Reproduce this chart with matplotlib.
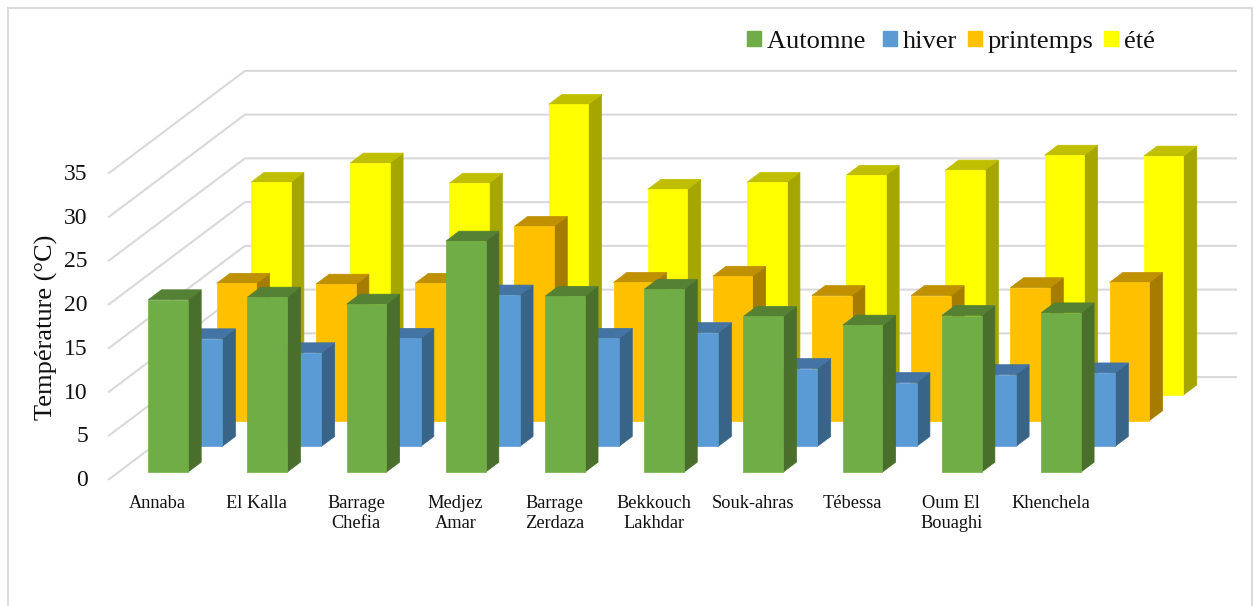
import matplotlib
matplotlib.use('Agg')
import matplotlib.pyplot as plt
from matplotlib.lines import Line2D
from matplotlib.patches import Patch
from matplotlib.transforms import ScaledTranslation

plt.rcParams['font.family'] = ['Liberation Serif', 'DejaVu Serif']

W, H = 1254, 606

villes = ['Annaba', 'El Kalla', 'Barrage\nChefia', 'Medjez\nAmar', 'Barrage\nZerdaza',
          'Bekkouch\nLakhdar', 'Souk-ahras', 'Tébessa', 'Oum El\nBouaghi', 'Khenchela']
saisons = ['Automne ', 'hiver', 'printemps', 'été']

automne = [19.7, 20.0, 19.2, 26.4, 20.1, 20.9, 17.8, 16.8, 17.9, 18.2]
hiver = [12.3, 10.7, 12.35, 17.3, 12.35, 13.0, 8.9, 7.3, 8.2, 8.4]
printemps = [15.7, 15.6, 15.7, 22.2, 15.8, 16.5, 14.3, 14.3, 15.2, 15.8]
ete = [24.3, 26.5, 24.2, 33.2, 23.5, 24.3, 25.1, 25.7, 27.4, 27.3]
series = [automne, hiver, printemps, ete]

yticks = [0, 5, 10, 15, 20, 25, 30, 35]

# face, dessus, cote
couleurs = [('#70AD47', '#558135', '#4A6E2B'),
            ('#5B9BD5', '#4374A3', '#386488'),
            ('#FFC000', '#BF9000', '#A67C00'),
            ('#FFFF00', '#BFBF00', '#A6A600')]

# projection oblique : un rang de profondeur decale en x (categories) et en y (degres)
dx = 0.345
dy = 2.94
largeur = 0.40
marge = 0.30
prof = 0.388
debut = 0.306

fig = plt.figure(figsize=(W / 100, H / 100), dpi=100)
ax = fig.add_axes([108 / W, (H - 480) / H, 1130 / W, 409.3 / H])
ax.set_xlim(0, 11.39)
ax.set_ylim(0, 46.78)
for s in ax.spines.values():
    s.set_visible(False)

# cadre autour du graphique
gris = '#D9D9D9'
fig.add_artist(Line2D([8 / W, 8 / W], [0, 1 - 8 / H], color=gris, lw=1.4))
fig.add_artist(Line2D([8 / W, 1252 / W], [1 - 8 / H, 1 - 8 / H], color=gris, lw=1.4))
fig.add_artist(Line2D([1252 / W, 1252 / W], [1 - 8 / H, 0], color=gris, lw=1.4))

# grille : paroi laterale puis fond
for v in yticks:
    ax.plot([0, 4 * dx, 10 + 4 * dx], [v, v + 4 * dy, v + 4 * dy], color=gris, lw=1.5,
            zorder=0.5, clip_on=False, solid_capstyle='butt')

# barres, du rang du fond vers le rang de devant
for rang in range(3, -1, -1):
    face, dessus, cote = couleurs[rang]
    for i, v in enumerate(series[rang]):
        x0 = i + marge + (rang + debut) * dx
        y0 = (rang + debut) * dy
        x1 = x0 + largeur
        y1 = y0 + v
        px = prof * dx
        py = prof * dy
        ax.fill([x1, x1 + px, x1 + px, x1], [y0, y0 + py, y1 + py, y1], color=cote, lw=0.5, zorder=1)
        ax.fill([x0, x0 + px, x1 + px, x1], [y1, y1 + py, y1 + py, y1], color=dessus, lw=0.5, zorder=1)
        ax.fill([x0, x1, x1, x0], [y0, y0, y1, y1], color=face, lw=0.5, zorder=1)

ax.set_yticks(yticks)
ax.set_xticks([i + 0.5 for i in range(len(villes))])
ax.set_xticklabels(villes, fontsize=13.2, linespacing=1.18, color='#111111')
ax.tick_params(axis='y', length=0, pad=14.5, labelsize=17, labelcolor='#111111')
ax.tick_params(axis='x', length=0, pad=11)

# les chiffres sont un peu au-dessus de la fin des lignes
for lab in ax.get_yticklabels():
    lab.set_transform(lab.get_transform() + ScaledTranslation(0, 2 / 100, fig.dpi_scale_trans))

ax.set_ylabel('Température (°C)', fontsize=19, color='#111111', va='center')
ax.yaxis.set_label_coords((46 - 108) / 1130, (480 - 327) / 409.3)

handles = [Patch(color=c[0]) for c in couleurs]
ax.legend(handles, saisons, loc='center', bbox_to_anchor=(951 / W, 1 - 42 / H),
          bbox_transform=fig.transFigure, ncol=4, frameon=False, fontsize=19,
          handlelength=0.53, handleheight=0.53, handletextpad=0.23,
          columnspacing=0.4, borderpad=0, labelcolor='#111111')

fig.savefig('out.png', dpi=100, facecolor='white')
